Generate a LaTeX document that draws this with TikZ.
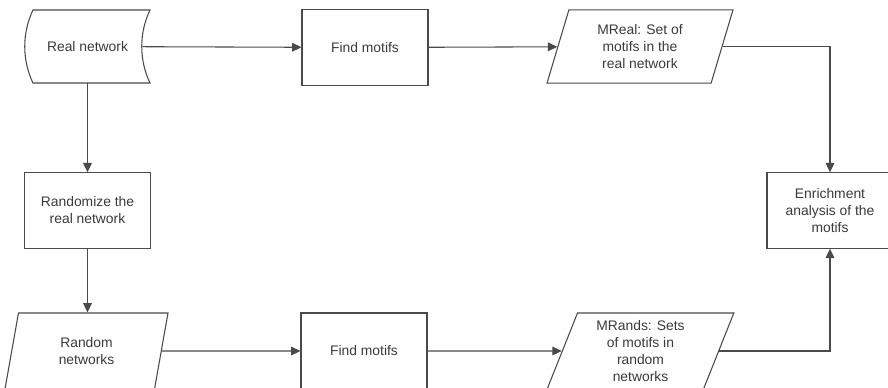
\documentclass[tikz,border=0pt]{standalone}
\usepackage{fontspec}
\setmainfont{Liberation Sans}
\usepackage{tikz}
\usetikzlibrary{shapes.geometric,arrows.meta}
\definecolor{linegray}{HTML}{4A4A4A}
\definecolor{textgray}{HTML}{3A3A3A}
\tikzset{
  every node/.style={text=textgray,font=\fontsize{10.4}{12.8}\selectfont,align=center},
  box/.style={draw=linegray,line width=0.8pt,minimum width=94.5pt,minimum height=56.5pt,inner sep=0pt},
  io/.style={draw=linegray,line width=0.8pt,trapezium,trapezium left angle=63.7,trapezium right angle=116.3,
    trapezium stretches body,minimum height=55pt,inner sep=0pt},
  flow/.style={draw=linegray,line width=0.8pt},
  >={Triangle[length=7pt,width=6.5pt]}
}
\begin{document}
\begin{tikzpicture}[x=0.75pt,y=-0.75pt]
\useasboundingbox (0,0) rectangle (888,387);

\node[minimum width=82.5pt,minimum height=54.75pt,inner sep=0pt] (real) at (87.5,46.5) {Real network};
\draw[flow] (33,10) -- (150,10) .. controls (139,33) and (139,60) .. (150,83)
  -- (33,83) .. controls (22,60) and (22,33) .. (33,10) -- cycle;

\node[box] (find1) at (365,47.5) {Find motifs};
\node[io,minimum width=139.5pt] (mreal) at (640,46.5) {MReal: Set of\\motifs in the\\real network};
\node[box] (rand) at (87.5,210.5) {Randomize the\\real network};
\node[box] (enrich) at (830,210.5) {Enrichment\\analysis of the\\motifs};
\node[io,minimum width=122.25pt,minimum height=57pt] (randnet) at (86.5,351) {Random\\networks};
\node[box,minimum height=57pt] (find2) at (364,351) {Find motifs};
\node[io,minimum width=140pt,minimum height=57pt] (mrands) at (640.5,351) {MRands: Sets\\of motifs in\\random\\networks};

\draw[flow,->] (real) -- (find1);
\draw[flow,->] (find1) -- (mreal);
\draw[flow,->] (mreal.east) -| (enrich.north);
\draw[flow,->] (real) -- (rand);
\draw[flow,->] (rand.south) -- (rand.south |- randnet.north);
\draw[flow,->] (randnet.east) -- (find2.west);
\draw[flow,->] (find2) -- (mrands);
\draw[flow,->] (mrands.east) -| (enrich.south);
\end{tikzpicture}
\end{document}
